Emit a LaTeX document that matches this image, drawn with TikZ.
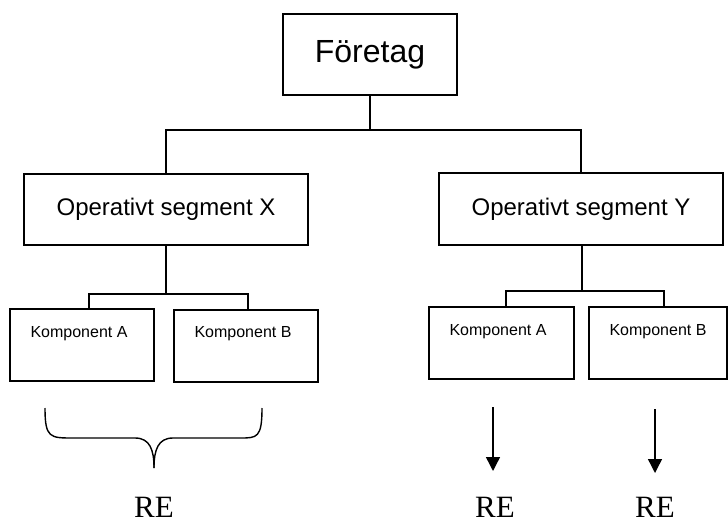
\documentclass[tikz,border=0pt]{standalone}
\usepackage{fontspec}
\setmainfont{Liberation Serif}
\setsansfont{Liberation Sans}
\usetikzlibrary{arrows.meta}
\begin{document}
\begin{tikzpicture}[x=1pt,y=-1pt,
  ln/.style={line width=1.4pt},
  box/.style={draw,ln,rectangle,inner sep=0pt,font=\sffamily},
  lbl/.style={font=\sffamily\fontsize{16}{18}\selectfont,inner sep=0pt},
  re/.style={font=\rmfamily\fontsize{31}{33}\selectfont,inner sep=0pt,anchor=base},
  arr/.style={ln,-{Triangle[width=14pt,length=14pt]}}]
\useasboundingbox (0,0) rectangle (728,524);
% boxes
\node[box,minimum width=174,minimum height=81,font=\sffamily\fontsize{32}{35}\selectfont] (f) at (370,54.5) {Företag};
\node[box,minimum width=284,minimum height=71,font=\sffamily\fontsize{24}{28}\selectfont] (ox) at (166,209.5) {Operativt segment X};
\node[box,minimum width=284,minimum height=72,font=\sffamily\fontsize{24}{28}\selectfont] (oy) at (581,209) {Operativt segment Y};
\node[box,minimum width=144,minimum height=72] (xa) at (82,345) {};
\node[box,minimum width=144,minimum height=72] (xb) at (246,346) {};
\node[box,minimum width=145,minimum height=72] (ya) at (501.5,343) {};
\node[box,minimum width=138,minimum height=72] (yb) at (658,343) {};
\node[lbl] (xal) at (79,334) {Komponent A};
\node[lbl] (xbl) at (243,334) {Komponent B};
\node[lbl] (yal) at (498,332) {Komponent A};
\node[lbl] (ybl) at (658,332) {Komponent B};
% connectors
\coordinate (j1) at (370,130);
\coordinate (jx) at (166,294);
\coordinate (jy) at (582,291);
\draw[ln] (f.south) -- (j1);
\draw[ln] (ox.north) |- (j1) -| (oy.north);
\draw[ln] (ox.south) -- (jx);
\draw[ln] ([xshift=7pt]xa.north) |- (jx) -| ([xshift=2pt]xb.north);
\draw[ln] (oy.south -| jy) -- (jy);
\draw[ln] ([xshift=4.5pt]ya.north) |- (jy) -| ([xshift=6pt]yb.north);
% brace
\coordinate (bl) at (45,408);
\coordinate (br) at (262,408);
\coordinate (bp) at (154,468);
\draw[ln] (bl) .. controls (45,438) and (50,438) .. (73,438) -- (135,438)
  .. controls (150,438) and (154,450) .. (bp);
\draw[ln] (br) .. controls (262,438) and (257,438) .. (240,438) -- (173,438)
  .. controls (158,438) and (154,450) .. (bp);
% arrows
\coordinate (a1s) at (493,407);
\coordinate (a1e) at (493,471);
\coordinate (a2s) at (655,409);
\coordinate (a2e) at (655,473);
\draw[arr] (a1s) -- (a1e);
\draw[arr] (a2s) -- (a2e);
% RE labels
\node[re] (re1) at (154,517) {RE};
\node[re] (re2) at (495,517) {RE};
\node[re] (re3) at (655,517) {RE};
\end{tikzpicture}
\end{document}
